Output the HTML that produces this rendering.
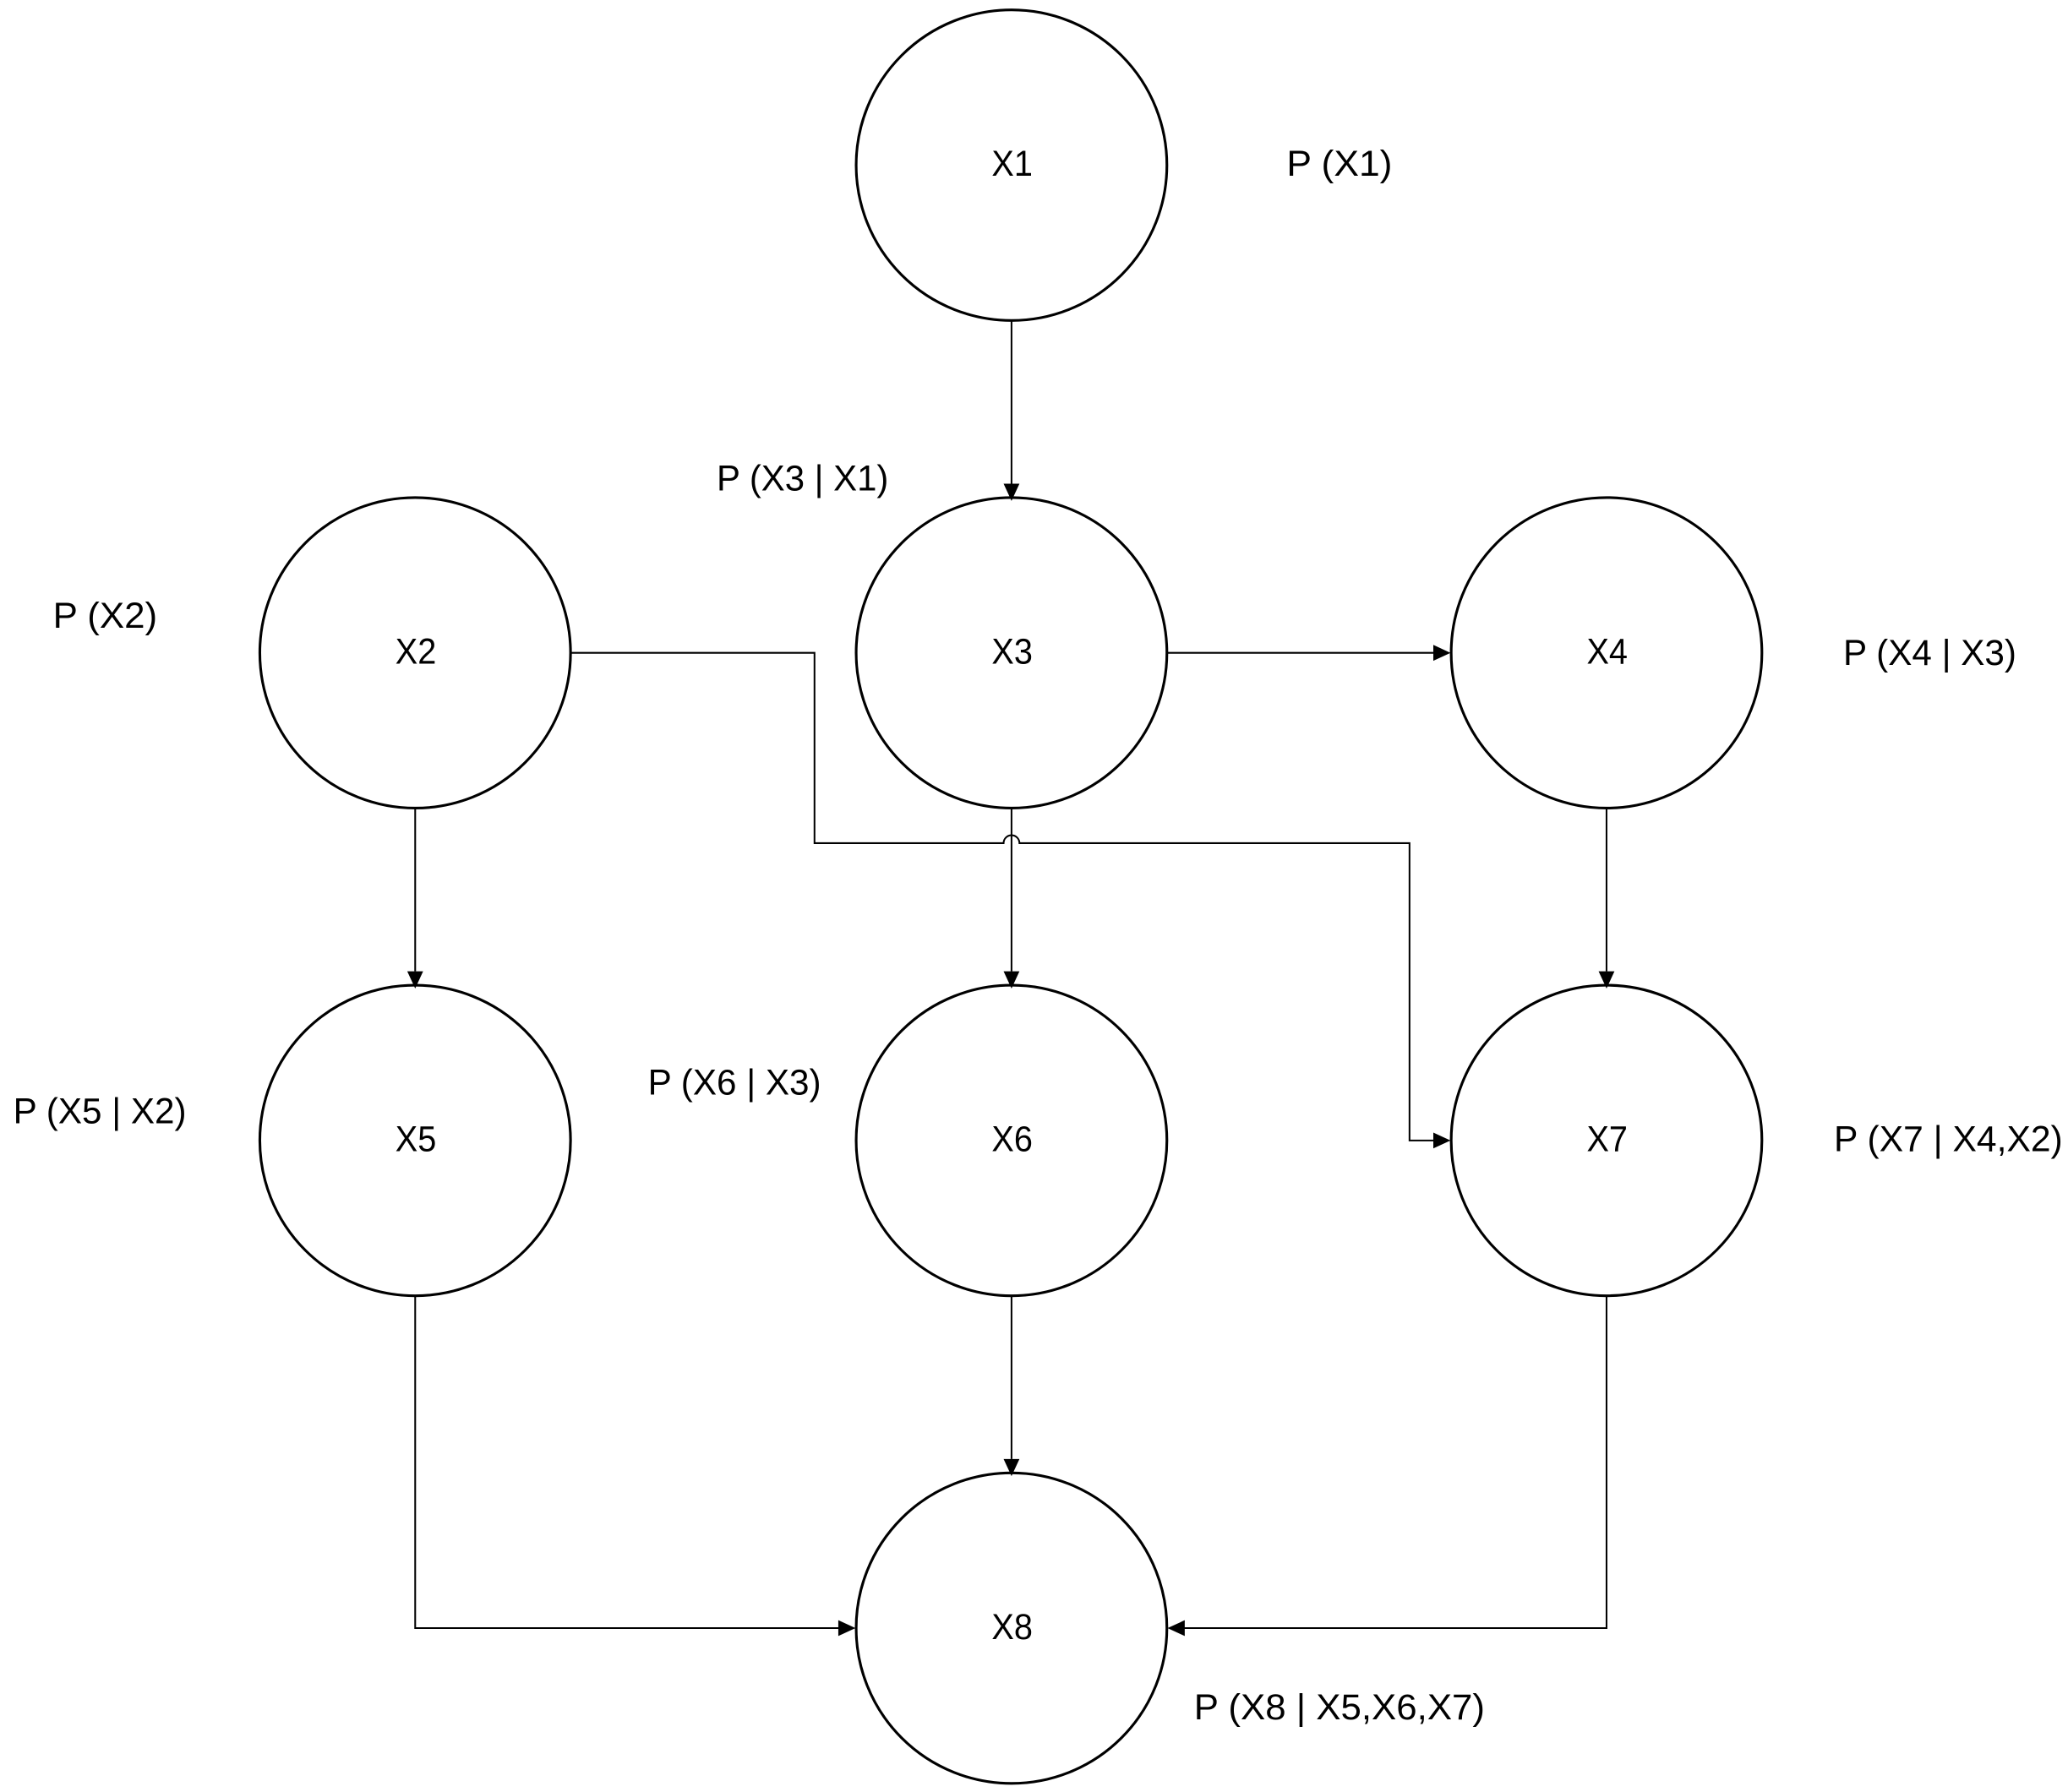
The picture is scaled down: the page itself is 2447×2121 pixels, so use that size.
<!DOCTYPE html>
<html><head><meta charset="utf-8"><style>
html,body{margin:0;padding:0;background:#fff;}
svg{display:block;}
text{font-family:"Liberation Sans",sans-serif;font-size:27px;fill:#000;dominant-baseline:middle;}
</style></head><body>
<svg width="2447" height="2121" viewBox="0 0 1564 1356" preserveAspectRatio="none" xmlns="http://www.w3.org/2000/svg">
<g fill="none" stroke="#000" stroke-width="2">
<circle cx="765" cy="125" r="117.5"/>
<circle cx="314" cy="494" r="117.5"/>
<circle cx="765" cy="494" r="117.5"/>
<circle cx="1215" cy="494" r="117.5"/>
<circle cx="314" cy="863" r="117.5"/>
<circle cx="765" cy="863" r="117.5"/>
<circle cx="1215" cy="863" r="117.5"/>
<circle cx="765" cy="1232" r="117.5"/>
</g>
<g fill="none" stroke="#000" stroke-width="1.3">
<path d="M765,243 V366"/>
<path d="M883,494 H1085"/>
<path d="M765,612 V735"/>
<path d="M314,612 V735"/>
<path d="M1215,612 V735"/>
<path d="M765,981 V1104"/>
<path d="M432,494 H616 V638 H759 A6,6 0 0 1 771,638 H1066 V863 H1085"/>
<path d="M314,981 V1232 H635"/>
<path d="M1215,981 V1232 H895"/>
</g>
<g fill="#000">
<path d="M759,366 L771,366 L765,379 z"/>
<path d="M759,735 L771,735 L765,748 z"/>
<path d="M308,735 L320,735 L314,748 z"/>
<path d="M1209,735 L1221,735 L1215,748 z"/>
<path d="M759,1104 L771,1104 L765,1117 z"/>
<path d="M1084,488 L1084,500 L1097,494 z"/>
<path d="M1084,857 L1084,869 L1097,863 z"/>
<path d="M634,1226 L634,1238 L647,1232 z"/>
<path d="M896,1226 L896,1238 L883,1232 z"/>
</g>
<g lengthAdjust="spacingAndGlyphs">
<text x="750" y="126" textLength="31" lengthAdjust="spacingAndGlyphs">X1</text>
<text x="299" y="495" textLength="31" lengthAdjust="spacingAndGlyphs">X2</text>
<text x="750" y="495" textLength="31" lengthAdjust="spacingAndGlyphs">X3</text>
<text x="1200" y="495" textLength="31" lengthAdjust="spacingAndGlyphs">X4</text>
<text x="299" y="864" textLength="31" lengthAdjust="spacingAndGlyphs">X5</text>
<text x="750" y="864" textLength="31" lengthAdjust="spacingAndGlyphs">X6</text>
<text x="1200" y="864" textLength="31" lengthAdjust="spacingAndGlyphs">X7</text>
<text x="750" y="1233" textLength="31" lengthAdjust="spacingAndGlyphs">X8</text>
<text x="973" y="126" textLength="80" lengthAdjust="spacingAndGlyphs">P (X1)</text>
<text x="542" y="364" textLength="130" lengthAdjust="spacingAndGlyphs">P (X3 | X1)</text>
<text x="40" y="468" textLength="79" lengthAdjust="spacingAndGlyphs">P (X2)</text>
<text x="1394" y="496" textLength="131" lengthAdjust="spacingAndGlyphs">P (X4 | X3)</text>
<text x="10" y="843" textLength="131" lengthAdjust="spacingAndGlyphs">P (X5 | X2)</text>
<text x="490" y="821" textLength="131" lengthAdjust="spacingAndGlyphs">P (X6 | X3)</text>
<text x="1387" y="864" textLength="173" lengthAdjust="spacingAndGlyphs">P (X7 | X4,X2)</text>
<text x="903" y="1294" textLength="220" lengthAdjust="spacingAndGlyphs">P (X8 | X5,X6,X7)</text>
</g>
</svg>
</body></html>
